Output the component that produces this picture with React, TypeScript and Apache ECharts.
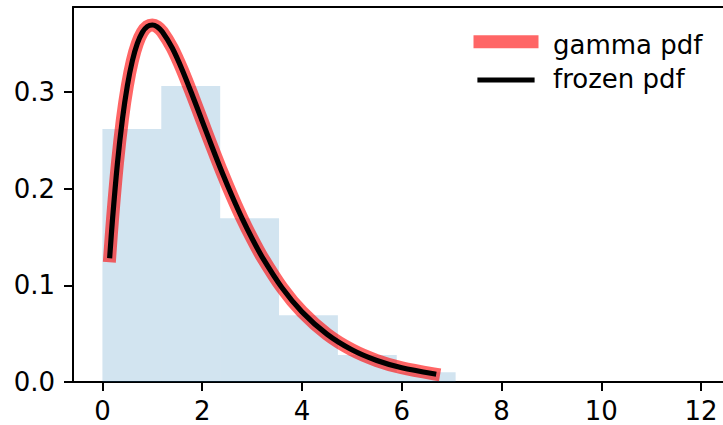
import React, { useEffect, useRef } from "react";
import * as echarts from "echarts";

// Histogram (density) — bin edges and heights
const binEdges = [0, 1.18, 2.36, 3.54, 4.72, 5.9, 7.08];
const binDensity = [0.2617, 0.3062, 0.1693, 0.069, 0.0279, 0.01];

// PDF curve
const pdfX = [0.148, 0.2, 0.3, 0.4, 0.5, 0.6, 0.7, 0.8, 0.9, 1.0, 1.1, 1.2, 1.4, 1.6, 1.8, 2.0, 2.2, 2.4, 2.6, 2.8, 3.0, 3.2, 3.6, 4.0, 4.5, 5.0, 5.5, 6.0, 6.64];
const pdfY = [0.1307, 0.1671, 0.2259, 0.2717, 0.3067, 0.3324, 0.3503, 0.3618, 0.3678, 0.3694, 0.3674, 0.3623, 0.3455, 0.3229, 0.297, 0.2699, 0.2429, 0.2167, 0.1921, 0.1692, 0.1484, 0.1295, 0.0975, 0.0726, 0.0495, 0.0333, 0.0222, 0.0147, 0.0085];

const xTicks = [0, 2, 4, 6, 8, 10, 12];
const yTicks = [0, 0.1, 0.2, 0.3];
const legendLabels = ["gamma pdf", "frozen pdf"];

const FONT = "DejaVu Sans";

export default function App() {
  const ref = useRef<HTMLDivElement>(null);
  useEffect(() => {
    if (!ref.current) return;
    const chart = echarts.init(ref.current, null, { renderer: "svg" });
    const pdfData = pdfX.map((x, i) => [x, pdfY[i]]);
    const histData = binDensity.map((h, i) => [binEdges[i], binEdges[i + 1], h]);
    const axisLineStyle = { color: "#000", width: 2 };
    chart.setOption({
      animation: false,
      backgroundColor: "#fff",
      grid: { left: 73, top: 7, width: 654, height: 375, containLabel: false },
      xAxis: [
        {
          type: "value",
          min: -0.59,
          max: 12.44,
          splitLine: { show: false },
          axisLine: { show: true, onZero: false, lineStyle: axisLineStyle },
          axisTick: { show: true, length: 9, lineStyle: axisLineStyle, customValues: xTicks },
          axisLabel: {
            customValues: xTicks,
            color: "#000",
            fontFamily: FONT,
            fontSize: 26,
            margin: 16,
            formatter: (v: number) => String(v),
          },
        },
        {
          type: "value",
          position: "top",
          min: -0.59,
          max: 12.44,
          splitLine: { show: false },
          axisLine: { show: true, onZero: false, lineStyle: axisLineStyle },
          axisTick: { show: false },
          axisLabel: { show: false },
        },
      ],
      yAxis: {
        type: "value",
        min: 0,
        max: 0.388,
        splitLine: { show: false },
        axisLine: { show: true, onZero: false, lineStyle: axisLineStyle },
        axisTick: { show: true, length: 9, lineStyle: axisLineStyle, customValues: yTicks },
        axisLabel: {
          customValues: yTicks,
          color: "#000",
          fontFamily: FONT,
          fontSize: 26,
          margin: 18,
          formatter: (v: number) => v.toFixed(1),
        },
      },
      series: [
        {
          type: "custom",
          xAxisIndex: 0,
          yAxisIndex: 0,
          encode: { x: [0, 1], y: 2 },
          data: histData,
          renderItem: (params: any, api: any) => {
            const p0 = api.coord([api.value(0), api.value(2)]);
            const p1 = api.coord([api.value(1), 0]);
            return {
              type: "rect",
              shape: { x: p0[0], y: p0[1], width: p1[0] - p0[0], height: p1[1] - p0[1] },
              style: { fill: "rgba(31,119,180,0.2)" },
            };
          },
          z: 1,
        },
        {
          name: legendLabels[0],
          type: "line",
          data: pdfData,
          showSymbol: false,
          smooth: 0.3,
          lineStyle: { color: "rgba(255,0,0,0.6)", width: 13, cap: "square", join: "round" },
          z: 2,
        },
        {
          name: legendLabels[1],
          type: "line",
          data: pdfData,
          showSymbol: false,
          smooth: 0.3,
          lineStyle: { color: "#000", width: 5.2, cap: "square", join: "round" },
          z: 3,
        },
      ],
      graphic: [
        {
          type: "line",
          shape: { x1: 480, y1: 41.7, x2: 532, y2: 41.7 },
          style: { stroke: "rgba(255,0,0,0.6)", lineWidth: 13, lineCap: "square" },
        },
        {
          type: "line",
          shape: { x1: 480, y1: 80, x2: 532, y2: 80 },
          style: { stroke: "#000", lineWidth: 5.2, lineCap: "square" },
        },
        {
          type: "text",
          x: 553,
          y: 45,
          style: { text: legendLabels[0], fill: "#000", font: `26px "${FONT}"`, verticalAlign: "middle", align: "left" },
        },
        {
          type: "text",
          x: 553,
          y: 79,
          style: { text: legendLabels[1], fill: "#000", font: `26px "${FONT}"`, verticalAlign: "middle", align: "left" },
        },
      ],
    });
    return () => chart.dispose();
  }, []);
  return (
    <div
      ref={ref}
      style={{ position: "fixed", left: 0, top: 0, width: 723, height: 425, background: "#fff" }}
    />
  );
}
